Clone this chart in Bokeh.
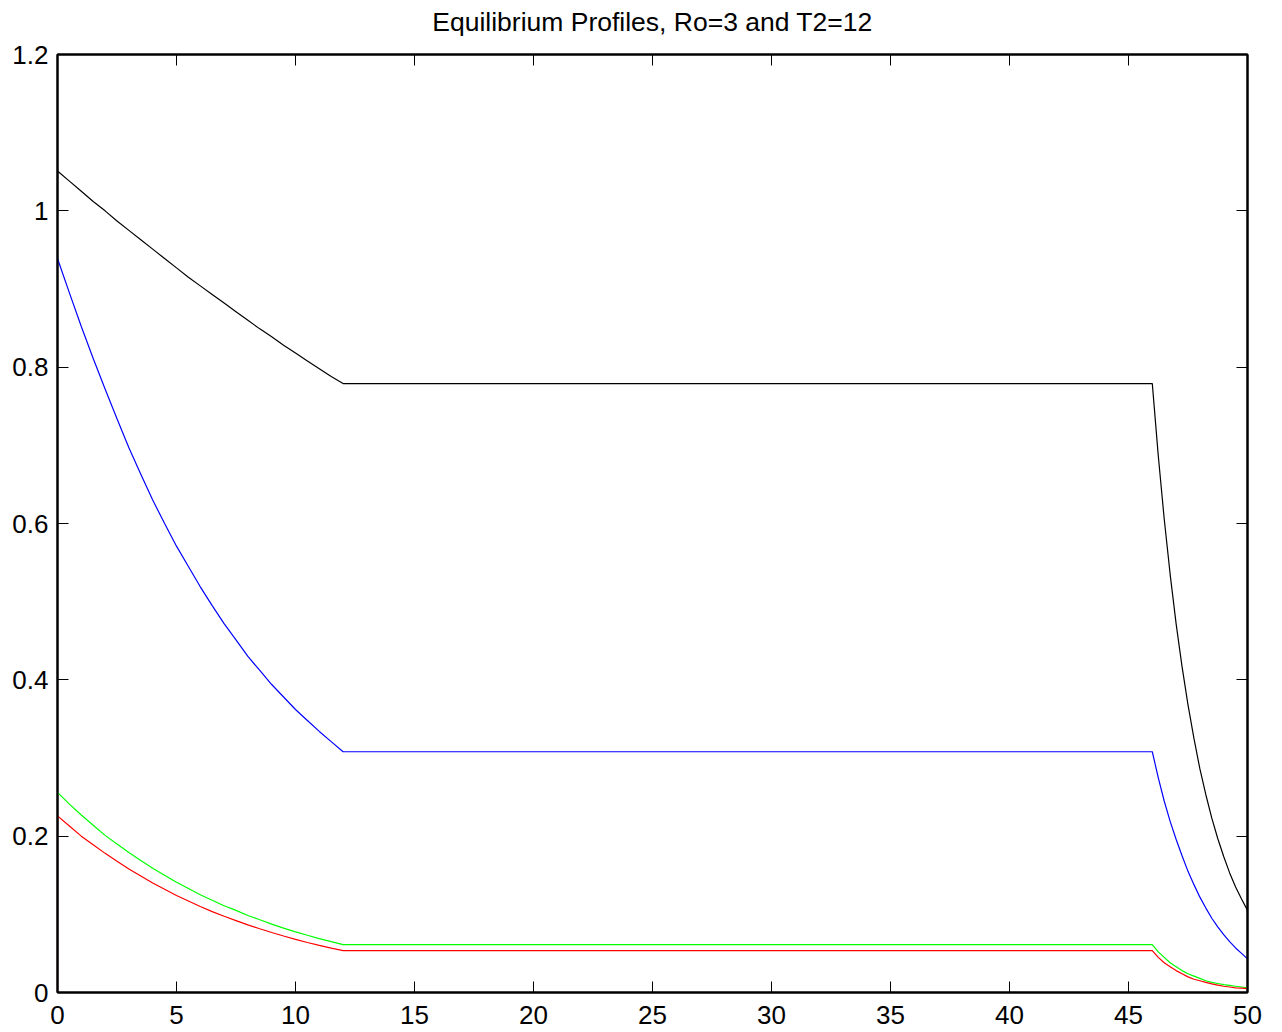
from bokeh.plotting import figure
from bokeh.models import Range1d, LinearAxis, FixedTicker, CustomJSTickFormatter
from bokeh.embed import file_html
from bokeh.resources import INLINE

title_text = "Equilibrium Profiles, Ro=3 and T2=12"

# x positions of the samples
x_left = [0, 0.5, 1, 1.5, 2, 2.5, 3, 3.5, 4, 4.5, 5, 5.5, 6, 6.5, 7, 7.5, 8, 8.5, 9, 9.5, 10, 10.5, 11, 11.5, 12]
x_right = [46, 46.25, 46.5, 46.75, 47, 47.25, 47.5, 47.75, 48, 48.25, 48.5, 48.75, 49, 49.25, 49.5, 49.75, 50]

# series values
black_left = [1.051, 1.038, 1.025, 1.012, 1.000, 0.987, 0.975, 0.963, 0.951, 0.939, 0.927, 0.915,
              0.904, 0.893, 0.882, 0.871, 0.860, 0.849, 0.839, 0.828, 0.818, 0.808, 0.798, 0.788, 0.779]
black_right = [0.779, 0.687, 0.606, 0.535, 0.472, 0.417, 0.368, 0.325, 0.286, 0.253, 0.223, 0.197,
               0.174, 0.153, 0.135, 0.1195, 0.105]

blue_left = [0.939, 0.895, 0.852, 0.811, 0.772, 0.734, 0.697, 0.663, 0.630, 0.600, 0.571, 0.545,
             0.519, 0.495, 0.472, 0.451, 0.430, 0.412, 0.394, 0.378, 0.362, 0.348, 0.334, 0.321, 0.308]
blue_right = [0.308, 0.275, 0.245, 0.219, 0.196, 0.175, 0.155, 0.138, 0.122, 0.108, 0.095, 0.084,
              0.074, 0.065, 0.057, 0.050, 0.043]

green_left = [0.256, 0.241, 0.227, 0.214, 0.201, 0.190, 0.179, 0.169, 0.159, 0.150, 0.141, 0.133,
              0.125, 0.118, 0.111, 0.105, 0.0985, 0.093, 0.0874, 0.0824, 0.0776, 0.0732, 0.0689, 0.0650, 0.0612]
green_right = [0.0612, 0.052, 0.045, 0.038, 0.033, 0.028, 0.024, 0.021, 0.018, 0.015, 0.013, 0.0115,
               0.010, 0.009, 0.008, 0.007, 0.006]

red_start_x = [0]
red_start_y = [0.0]
red_left = [0.226, 0.213, 0.200, 0.189, 0.178, 0.168, 0.158, 0.149, 0.140, 0.132, 0.124, 0.117,
            0.110, 0.1035, 0.0975, 0.092, 0.0865, 0.0815, 0.0767, 0.0723, 0.068, 0.064, 0.0603, 0.0568, 0.0535]
red_right = [0.0535, 0.045, 0.038, 0.033, 0.028, 0.024, 0.020, 0.017, 0.015, 0.013, 0.011, 0.0095,
             0.008, 0.007, 0.006, 0.0055, 0.005]

x_ticks = [0, 5, 10, 15, 20, 25, 30, 35, 40, 45, 50]
y_ticks = [0, 0.2, 0.4, 0.6, 0.8, 1.0, 1.2]

FONT = "Liberation Sans"

p = figure(width=1282, height=1032, output_backend="svg", toolbar_location=None,
           x_range=Range1d(0, 50), y_range=Range1d(0, 1.2),
           min_border_left=57, min_border_right=35, min_border_top=54, min_border_bottom=40)

p.xgrid.visible = False
p.ygrid.visible = False
p.background_fill_color = "white"
p.border_fill_color = "white"
p.outline_line_color = "black"
p.outline_line_width = 2

xfmt = CustomJSTickFormatter(code="return tick.toFixed(0);")
yfmt = CustomJSTickFormatter(code="var s = tick.toFixed(1); return s.replace(/\\.0$/, '');")
empty = CustomJSTickFormatter(code="return '';")

def style_axis(ax, ticks, fmt):
    ax.ticker = FixedTicker(ticks=ticks)
    ax.formatter = fmt
    ax.major_tick_in = 11
    ax.major_tick_out = 0
    ax.minor_tick_in = 0
    ax.minor_tick_out = 0
    ax.major_tick_line_color = "black"
    ax.major_tick_line_width = 1
    ax.axis_line_color = "black"
    ax.axis_line_width = 2
    ax.major_label_text_font = FONT
    ax.major_label_text_font_size = "26px"
    ax.major_label_text_color = "black"

style_axis(p.xaxis[0], x_ticks, xfmt)
style_axis(p.yaxis[0], y_ticks, yfmt)
p.xaxis[0].major_label_standoff = 13
p.yaxis[0].major_label_standoff = 9

# top axis carries the chart title as its label
top_ax = LinearAxis()
style_axis(top_ax, x_ticks, empty)
top_ax.major_label_text_font_size = "1px"
top_ax.major_label_standoff = 0
top_ax.axis_label = title_text
top_ax.axis_label_text_font = FONT
top_ax.axis_label_text_font_size = "26.5px"
top_ax.axis_label_text_font_style = "normal"
top_ax.axis_label_text_color = "black"
top_ax.axis_label_standoff = 18

right_ax = LinearAxis()
style_axis(right_ax, y_ticks, empty)
right_ax.major_label_text_font_size = "1px"
right_ax.major_label_standoff = 0
p.add_layout(top_ax, "above")
p.add_layout(right_ax, "right")

def series(xl, yl, xr, yr):
    return list(xl) + list(xr), list(yl) + list(yr)

bx, by = series(x_left, black_left, x_right, black_right)
ux, uy = series(x_left, blue_left, x_right, blue_right)
gx, gy = series(x_left, green_left, x_right, green_right)
rx, ry = series(red_start_x + x_left, red_start_y + red_left, x_right, red_right)

p.line(bx, by, line_color="#000000", line_width=1.2)
p.line(ux, uy, line_color="#0000ff", line_width=1.2)
p.line(gx, gy, line_color="#00ff00", line_width=1.2)
p.line(rx, ry, line_color="#ff0000", line_width=1.2)

open("out.html", "w").write(file_html(p, INLINE))
